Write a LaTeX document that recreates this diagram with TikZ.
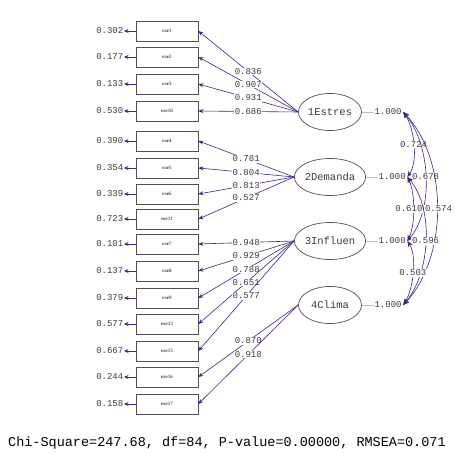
\documentclass[tikz,border=0pt]{standalone}
\usepackage{fontspec}
\newfontfamily\monof{Liberation Mono}
\newfontfamily\serf{Liberation Serif}
\usetikzlibrary{arrows.meta,shapes.geometric,calc}
\definecolor{pathc}{RGB}{45,45,140}
\definecolor{txtc}{RGB}{60,60,60}
\definecolor{boxc}{RGB}{80,80,80}
\begin{document}
\begin{tikzpicture}[x=1pt,y=-1pt,
  obs/.style={draw=boxc,fill=white,line width=0.7pt,minimum width=62pt,minimum height=20pt,inner sep=0pt,font=\serf\fontsize{5}{5}\selectfont,text=black},
  lat/.style={draw=boxc,ellipse,line width=0.7pt,minimum width=63pt,minimum height=37pt,inner sep=0pt,font=\monof\fontsize{10.5}{11}\selectfont,text=txtc},
  num/.style={font=\monof\fontsize{9}{9}\selectfont,text=txtc,inner sep=0.5pt},
  lbl/.style={num,fill=white,inner sep=0.6pt},
  load/.style={draw=pathc,line width=0.6pt,-{Stealth[length=5pt,width=4pt]}},
  errarr/.style={draw=pathc,line width=0.8pt,-{Stealth[length=4.5pt,width=4pt]}},
  varl/.style={draw=gray!50,line width=0.5pt},
  cov/.style={draw=pathc,line width=0.6pt,{Stealth[length=6pt,width=5pt]}-{Stealth[length=6pt,width=5pt]}}
]
\useasboundingbox[fill=white] (0,0) rectangle (455,454);

% observed variables
\foreach \n/\y/\e in {eae1/31/0.302, eae2/57/0.177, eae3/84/0.133, eae18/111/0.530,
  eae4/141/0.390, eae5/168/0.354, eae6/194/0.339, eae11/219/0.723,
  eae7/244/0.101, eae8/271/0.137, eae9/298/0.379, eae13/324/0.577,
  eae15/351/0.667, eae16/377/0.244, eae17/404/0.158}{
  \node[obs] (\n) at (167,\y) {\n};
  \node[num,anchor=east] (err\n) at (124,\y) {\e};
  \draw[errarr] (\n.west) -- (err\n.east);
}

% latent variables
\node[lat] (L1) at (330,112) {1Estres};
\node[lat] (L2) at (330,177) {2Demanda};
\node[lat] (L3) at (330,241) {3Influen};
\node[lat] (L4) at (330,305) {4Clima};

\foreach \i in {1,2,3,4}{
  \node[num,anchor=west] (v\i) at ($(L\i.east)+(12,0)$) {1.000};
  \draw[varl] (L\i.east) -- (v\i.west);
  \coordinate (c\i) at ($(v\i.east)+(1,0)$);
}

% loadings
\draw[load] (L1.west) -- node[lbl]{0.836} (eae1.east);
\draw[load] (L1.west) -- node[lbl]{0.907} (eae2.east);
\draw[load] (L1.west) -- node[lbl]{0.931} (eae3.east);
\draw[load] (L1.west) -- node[lbl]{0.686} (eae18.east);

\draw[load] (L2.west) -- node[lbl]{0.781} (eae4.east);
\draw[load] (L2.west) -- node[lbl]{0.804} (eae5.east);
\draw[load] (L2.west) -- node[lbl]{0.813} (eae6.east);
\draw[load] (L2.west) -- node[lbl]{0.527} (eae11.east);

\draw[load] (L3.west) -- node[lbl]{0.948} (eae7.east);
\draw[load] (L3.west) -- node[lbl]{0.929} (eae8.east);
\draw[load] (L3.west) -- node[lbl]{0.788} (eae9.east);
\draw[load] (L3.west) -- node[lbl]{0.651} (eae13.east);
\draw[load] (L3.west) -- node[lbl]{0.577} (eae15.east);

\draw[load] (L4.west) -- node[lbl]{0.870} (eae16.east);
\draw[load] (L4.west) -- node[lbl]{0.918} (eae17.east);

% covariances
\draw[cov] (c1) .. controls +(11,16) and +(11,-16) .. node[lbl]{0.724} (c2);
\draw[cov] (c1) .. controls +(27,32) and +(27,-32) .. node[lbl]{0.678} (c3);
\draw[cov] (c1) .. controls +(45,48) and +(45,-48) .. node[lbl,xshift=1.5pt]{0.574} (c4);
\draw[cov] (c2) .. controls +(8,16) and +(8,-16) .. node[lbl,xshift=-4.5pt]{0.610} (c3);
\draw[cov] (c2) .. controls +(27,32) and +(27,-32) .. node[lbl]{0.596} (c4);
\draw[cov] (c3) .. controls +(10,16) and +(10,-16) .. node[lbl]{0.503} (c4);

\node[font=\monof\fontsize{13.5}{14}\selectfont,text=black,anchor=west,inner sep=0pt] (fit) at (8,443) {Chi-Square=247.68, df=84, P-value=0.00000, RMSEA=0.071};
\end{tikzpicture}
\end{document}
